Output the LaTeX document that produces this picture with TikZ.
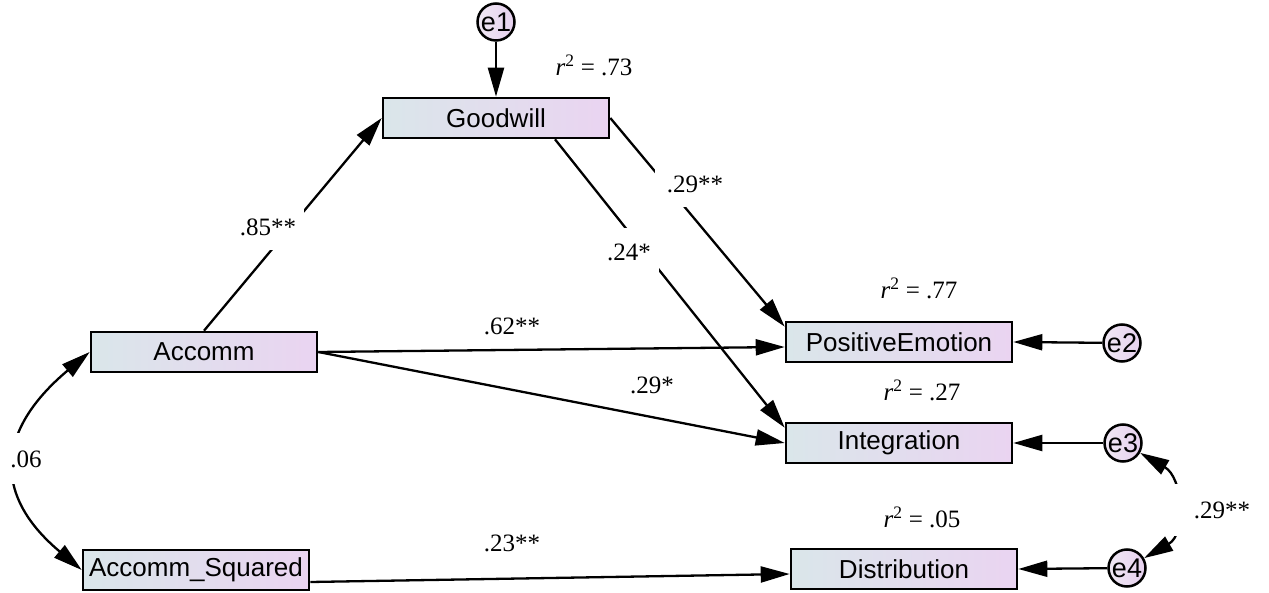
\documentclass[tikz,border=0pt]{standalone}
\usepackage{fontspec}
\setmainfont{Liberation Serif}
\newfontfamily\arialf{Liberation Sans}
\usetikzlibrary{arrows.meta}
\definecolor{boxL}{RGB}{218,230,234}
\definecolor{boxR}{RGB}{234,212,241}
\definecolor{errL}{RGB}{240,232,244}
\definecolor{errR}{RGB}{230,208,238}
\begin{document}
\begin{tikzpicture}[x=1pt,y=1pt,
 varbox/.style={draw, line width=2.6pt, left color=boxL, right color=boxR, minimum width=226pt, minimum height=40pt, inner sep=0pt, font=\arialf\fontsize{26}{30}\selectfont},
 errc/.style={circle, draw, line width=2.5pt, left color=errL, right color=errR, minimum size=37pt, inner sep=0pt, font=\arialf\fontsize{27}{30}\selectfont},
 arr/.style={line width=2.3pt, -{Triangle[length=29pt,width=16pt]}},
 dbl/.style={line width=2.3pt, {Triangle[length=29pt,width=16pt]}-{Triangle[length=29pt,width=16pt]}},
 lbl/.style={font=\fontsize{25}{30}\selectfont, inner sep=2pt},
 cutlbl/.style={lbl, fill=white, inner xsep=8pt, inner ysep=15pt, text height=17pt, text depth=0pt}]

\useasboundingbox (0,0) rectangle (1269,592);

% variables
\node[varbox] (good)  at (496,474) {Goodwill};
\node[varbox] (acc)   at (204,240) {Accomm};
\node[varbox] (accsq) at (196,22)  {Accomm\_Squared};
\node[varbox] (pos)   at (899,250) {PositiveEmotion};
\node[varbox] (int)   at (899,149) {Integration};
\node[varbox] (dist)  at (904,23)  {Distribution};

% error terms
\node[errc] (e1) at (496,570) {e1};
\node[errc] (e2) at (1122,249) {e2};
\node[errc] (e3) at (1123,149) {e3};
\node[errc] (e4) at (1127,24)  {e4};

% paths
\draw[arr] (e1) -- (good);
\draw[arr] (acc.north) -- (good.west);
\draw[arr] (good.east) -- ([yshift=-6pt]pos.north west);
\draw[arr] ([xshift=59pt]good.south) -- ([yshift=-6pt]int.north west);
\draw[arr] (acc.east) -- ([yshift=-5pt]pos.west);
\draw[arr] (acc.east) -- (int.west);
\draw[arr] ([yshift=-12pt]accsq.east) -- ([yshift=-5pt]dist.west);
\draw[arr] (e2) -- (pos.east);
\draw[arr] (e3) -- (int.east);
\draw[arr] (e4) -- (dist.east);

% covariances
\draw[dbl] (acc.west) to[out=-140, in=140, looseness=1.4] (accsq.west);
\draw[dbl] (e3.-30) to[out=-30, in=30, looseness=1.2] (e4.30);

% coefficient labels
\node[cutlbl] (l85) at (268,365) {.85**};
\node[cutlbl, inner xsep=12pt] (l29a) at (695,408) {.29**};
\node[cutlbl] (l24) at (629,340) {.24*};
\node[cutlbl, inner ysep=17pt] (l06) at (26,133) {.06};
\node[cutlbl, inner xsep=30pt, inner ysep=17pt] (l29c) at (1222,82) {.29**};
\node[lbl] (l62) at (512,266) {.62**};
\node[lbl] (l29b) at (652,207) {.29*};
\node[lbl] (l23) at (512,49) {.23**};

% r-squared labels
\node[lbl] (r1) at (594,527) {\textit{r}\textsuperscript{2} = .73};
\node[lbl] (r2) at (919,304) {\textit{r}\textsuperscript{2} = .77};
\node[lbl] (r3) at (922,202) {\textit{r}\textsuperscript{2} = .27};
\node[lbl] (r4) at (922,75)  {\textit{r}\textsuperscript{2} = .05};
\end{tikzpicture}
\end{document}
